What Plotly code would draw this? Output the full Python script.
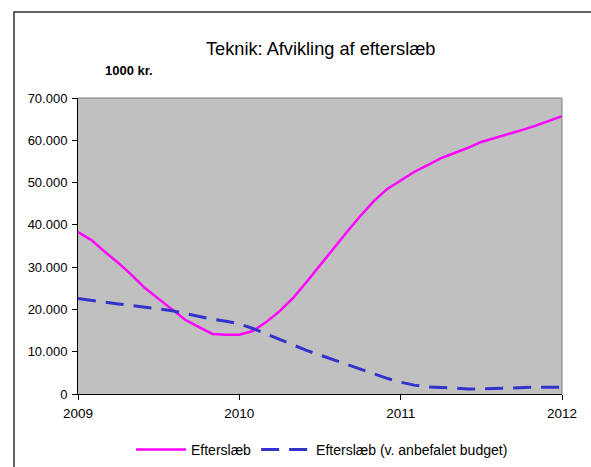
import plotly.graph_objects as go

months = list(range(37))
x_years = [2009 + m / 12 for m in months]

efterslaeb = [38.3, 36.4, 33.6, 31.0, 28.1, 25.0, 22.5, 19.9, 17.5, 15.8, 14.2, 14.0, 14.0,
              14.9, 17.0, 19.6, 22.7, 26.5, 30.5, 34.3, 38.3, 42.1, 45.6, 48.5, 50.6,
              52.5, 54.1, 55.8, 57.0, 58.2, 59.6, 60.5, 61.5, 62.4, 63.4, 64.6, 65.7]
efterslaeb = [v * 1000 for v in efterslaeb]

budget = [22.6, 22.1, 21.7, 21.3, 20.9, 20.6, 20.2, 19.7, 19.0, 18.3, 17.7, 17.2, 16.6,
          15.5, 14.2, 12.8, 11.5, 10.3, 9.2, 8.1, 7.0, 5.9, 4.7, 3.7, 2.8,
          2.1, 1.7, 1.5, 1.3, 1.2, 1.2, 1.3, 1.5, 1.6, 1.6, 1.6, 1.6]
budget = [v * 1000 for v in budget]

year_ticks = [2009, 2010, 2011, 2012]
year_labels = ["2009", "2010", "2011", "2012"]
y_ticks = [0, 10000, 20000, 30000, 40000, 50000, 60000, 70000]

FONT = "Liberation Sans, Arial, sans-serif"

fig = go.Figure()
fig.add_trace(go.Scatter(x=x_years, y=efterslaeb, mode="lines", name="Efterslæb",
                         line=dict(color="#FF00FF", width=2.5)))
fig.add_trace(go.Scatter(x=x_years, y=budget, mode="lines",
                         name="Efterslæb (v. anbefalet budget)",
                         line=dict(color="#3333CC", width=3, dash="18px,10px")))

L, R, T, B = 78, 562, 98, 394
W, H = 591, 467

def px(xp):
    return (xp - L) / (R - L)

def py(yp):
    return (B - yp) / (B - T)

fig.update_layout(
    width=W, height=H,
    margin=dict(l=L, r=W - R, t=T, b=H - B, autoexpand=False),
    paper_bgcolor="white",
    plot_bgcolor="#C0C0C0",
    font=dict(family=FONT, size=13, color="black"),
    separators=",.",
    showlegend=True,
    legend=dict(orientation="h", x=px(322), xanchor="center", y=py(450), yanchor="middle",
                font=dict(size=14), bgcolor="rgba(0,0,0,0)", itemwidth=50,
                tracegroupgap=0, itemclick=False),
    xaxis=dict(range=[2009, 2012], tickvals=year_ticks, ticktext=year_labels,
               showgrid=False, zeroline=False, showline=True, linecolor="black",
               linewidth=1, ticks="outside", ticklen=5, tickcolor="black",
               tickfont=dict(size=13.5), ticklabelstandoff=2, automargin=False),
    yaxis=dict(range=[0, 70000], tickvals=y_ticks, tickformat=",.0f",
               showgrid=False, zeroline=False, showline=True, linecolor="black",
               linewidth=1, ticks="outside", ticklen=5, tickcolor="black",
               tickfont=dict(size=13), ticklabelstandoff=2, automargin=False),
    shapes=[
        dict(type="rect", xref="paper", yref="paper", x0=px(14), x1=px(600), y0=py(480), y1=py(12),
             line=dict(color="#303030", width=1.5), layer="below"),
        dict(type="line", xref="paper", yref="paper", x0=0, x1=1, y0=1, y1=1,
             line=dict(color="#808080", width=1)),
        dict(type="line", xref="paper", yref="paper", x0=1, x1=1, y0=0, y1=1,
             line=dict(color="#808080", width=1)),
    ],
    annotations=[
        dict(text="Teknik: Afvikling af efterslæb", xref="paper", yref="paper",
             x=px(320), y=py(49), xanchor="center", yanchor="middle", showarrow=False,
             font=dict(size=18.2, family=FONT)),
        dict(text="<b>1000 kr.</b>", xref="paper", yref="paper",
             x=px(103), y=py(70), xanchor="left", yanchor="middle", showarrow=False,
             font=dict(size=13, family=FONT)),
    ],
)

fig.write_html("out.html", config={"displayModeBar": False},
               post_script="document.body.style.margin='0';document.body.style.overflow='hidden';")
